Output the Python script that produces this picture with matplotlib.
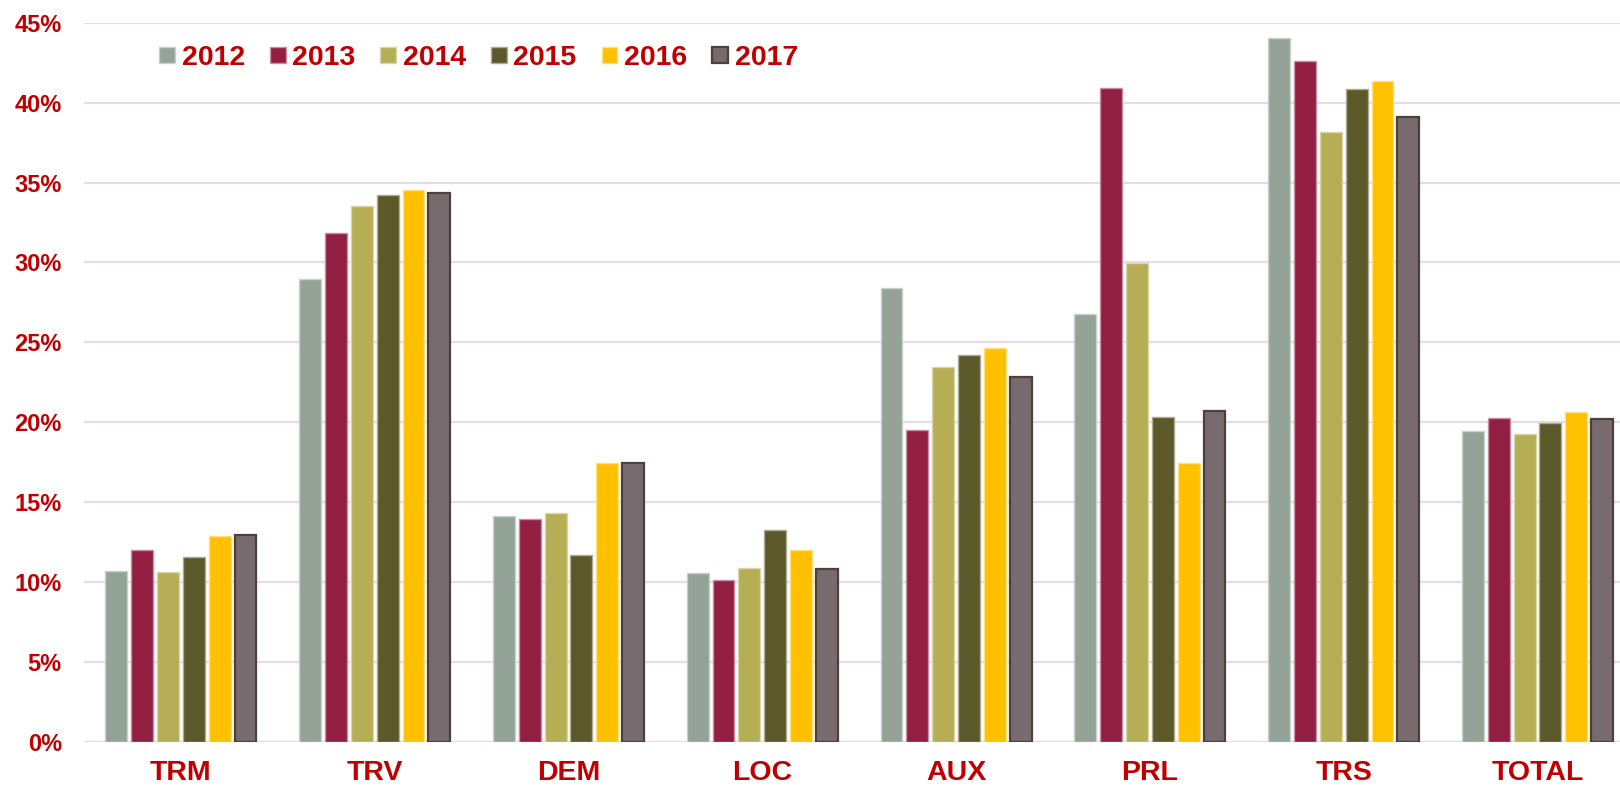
import matplotlib
matplotlib.use("Agg")
import matplotlib.pyplot as plt
import numpy as np

categories = ["TRM", "TRV", "DEM", "LOC", "AUX", "PRL", "TRS", "TOTAL"]
years = ["2012", "2013", "2014", "2015", "2016", "2017"]

v2012 = [10.68, 28.99, 14.16, 10.54, 28.39, 26.80, 44.05, 19.44]
v2013 = [12.00, 31.85, 13.92, 10.13, 19.52, 40.90, 42.60, 20.25]
v2014 = [10.63, 33.50, 14.35, 10.90, 23.44, 29.96, 38.15, 19.24]
v2015 = [11.57, 34.22, 11.71, 13.27, 24.22, 20.34, 40.87, 19.92]
v2016 = [12.89, 34.51, 17.42, 12.03, 24.64, 17.43, 41.34, 20.64]
v2017 = [12.93, 34.37, 17.42, 10.80, 22.83, 20.73, 39.10, 20.20]
series = [v2012, v2013, v2014, v2015, v2016, v2017]

fills = ["#94A397", "#921F42", "#B5AE55", "#5B5829", "#FFC000", "#786B6F"]
edges = ["#C9D1CB", "#C98FA0", "#DAD6AA", "#ADAB94", "#FFE080", "#4D4038"]
edge_w = [1.0, 1.0, 1.0, 1.0, 1.0, 1.6]

txt = "#C00000"
plt.rcParams['font.family'] = ['Liberation Sans', 'DejaVu Sans']
plt.rcParams['font.weight'] = 'bold'

fig = plt.figure(figsize=(16.2, 7.88), dpi=100)
ax = fig.add_axes([84 / 1620, 0.0586, 1 - 84 / 1620, 0.9712 - 0.0586])

x = np.arange(len(categories))
pitch = 0.1333
bw = 0.113
handles = []
for j, (vals, fc, ec, lw) in enumerate(zip(series, fills, edges, edge_w)):
    b = ax.bar(x + (j - 2.5) * pitch, vals, width=bw, color=fc, edgecolor=ec,
               linewidth=lw, label=years[j], zorder=3)
    handles.append(b)

ax.set_ylim(0, 45)
ax.set_xlim(-0.5, -0.5 + (1620 - 84) / 193.8)
ax.set_yticks(np.arange(0, 46, 5))
ax.set_yticklabels([f"{t}%" for t in range(0, 46, 5)])
ax.set_xticks(x)
ax.set_xticklabels(categories)
ax.tick_params(axis='y', length=0, pad=16, labelsize=17, labelcolor=txt)
ax.tick_params(axis='x', length=0, pad=13, labelsize=20.5, labelcolor=txt)
for lab in ax.get_xticklabels() + ax.get_yticklabels():
    lab.set_fontweight('bold')

ax.yaxis.grid(True, color="#E4DCEB", linewidth=1.6, zorder=0)
ax.set_axisbelow(True)
for s in ax.spines.values():
    s.set_visible(False)

leg = fig.legend(handles=handles, labels=years, loc='center left',
                 bbox_to_anchor=(159 / 1620, (788 - 58) / 788), ncol=6,
                 frameon=False, borderpad=0, borderaxespad=0,
                 handlelength=0.56, handleheight=0.53, handletextpad=0.235,
                 columnspacing=0.87,
                 prop={'family': ['Liberation Sans', 'DejaVu Sans'], 'weight': 'bold', 'size': 20.5})
for t in leg.get_texts():
    t.set_color(txt)

fig.savefig("out.png", dpi=100, facecolor="white")
